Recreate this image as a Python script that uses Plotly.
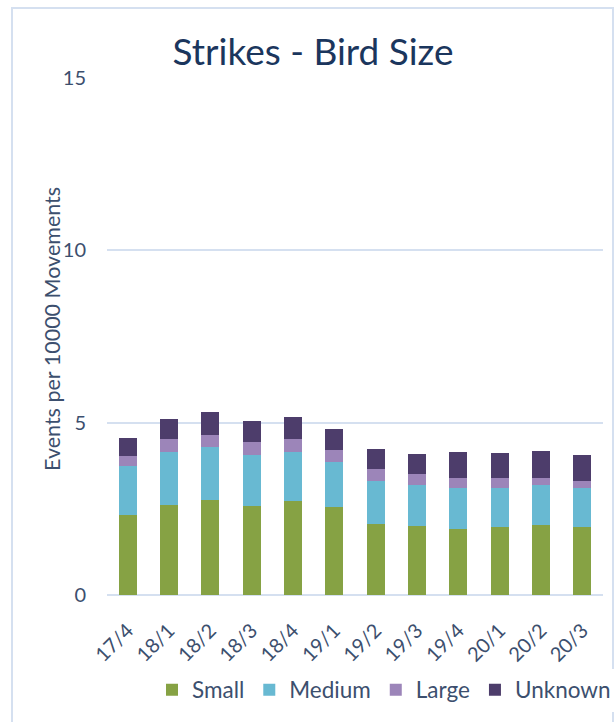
import plotly.graph_objects as go

# Quarterly bird-strike rates, stacked by bird size
quarters = ["17/4", "18/1", "18/2", "18/3", "18/4", "19/1",
            "19/2", "19/3", "19/4", "20/1", "20/2", "20/3"]
small = [2.31, 2.60, 2.76, 2.58, 2.72, 2.55, 2.06, 2.01, 1.91, 1.97, 2.03, 1.97]
medium = [1.43, 1.55, 1.53, 1.48, 1.43, 1.31, 1.25, 1.18, 1.19, 1.13, 1.16, 1.13]
large = [0.29, 0.38, 0.35, 0.38, 0.38, 0.35, 0.35, 0.32, 0.29, 0.29, 0.20, 0.21]
unknown = [0.52, 0.58, 0.67, 0.61, 0.64, 0.61, 0.58, 0.58, 0.76, 0.73, 0.79, 0.75]

y_ticks = [0, 5, 10, 15]

series = [
    ("Small", small, "#86a244"),
    ("Medium", medium, "#68b9d2"),
    ("Large", large, "#9c85b9"),
    ("Unknown", unknown, "#4d3d6b"),
]

FONT = "Lato"
TEXT = "#3c4f6e"
GRID = "#d5e0f0"

fig = go.Figure()
for name, vals, color in series:
    fig.add_trace(go.Bar(
        x=quarters, y=vals, name=name,
        marker=dict(color=color, line=dict(width=0)),
    ))

W, H = 616, 722
L, R, T, B = 107, 13, 78, 127
pw, ph = W - L - R, H - T - B

def px_x(p):
    return (p - L) / pw

def px_y(p):
    return (H - B - p) / ph

fig.update_layout(
    width=W, height=H,
    margin=dict(l=L, r=R, t=T, b=B, autoexpand=False),
    barmode="stack",
    bargap=0.565,
    paper_bgcolor="white",
    plot_bgcolor="white",
    font=dict(family=FONT, color=TEXT),
    title=dict(
        text="Strikes - Bird Size",
        x=313 / W, xanchor="center",
        y=1 - 52 / H, yanchor="middle",
        font=dict(family=FONT, size=37, color="#1b365d"),
    ),
    xaxis=dict(
        tickangle=-45,
        tickfont=dict(size=20, color=TEXT),
        showgrid=False,
        showline=False,
        ticks="outside", ticklen=15, tickcolor="rgba(0,0,0,0)",
        automargin=False,
    ),
    yaxis=dict(
        range=[0, 15],
        tickvals=y_ticks,
        tickfont=dict(size=20, color=TEXT),
        showgrid=True, gridcolor=GRID, gridwidth=2,
        zeroline=True, zerolinecolor=GRID, zerolinewidth=2,
        ticks="outside", ticklen=16, tickcolor="rgba(0,0,0,0)",
        showline=False,
        automargin=False,
    ),
    legend=dict(
        orientation="h",
        traceorder="normal",
        xref="container", yref="container",
        x=152 / W, xanchor="left",
        y=1 - 690 / H, yanchor="middle",
        font=dict(size=22.5, color=TEXT),
        itemclick=False,
    ),
    annotations=[dict(
        text="Events per 10000 Movements",
        textangle=-90,
        xref="paper", yref="paper",
        x=px_x(52), y=px_y(329),
        xanchor="center", yanchor="middle",
        showarrow=False,
        font=dict(family=FONT, size=21.5, color=TEXT),
    )],
    shapes=[dict(
        type="rect", xref="paper", yref="paper",
        x0=px_x(12), x1=px_x(613), y0=px_y(740), y1=px_y(8),
        line=dict(color=GRID, width=2), fillcolor="rgba(0,0,0,0)",
        layer="below",
    )],
)

fig.write_html("out.html")
